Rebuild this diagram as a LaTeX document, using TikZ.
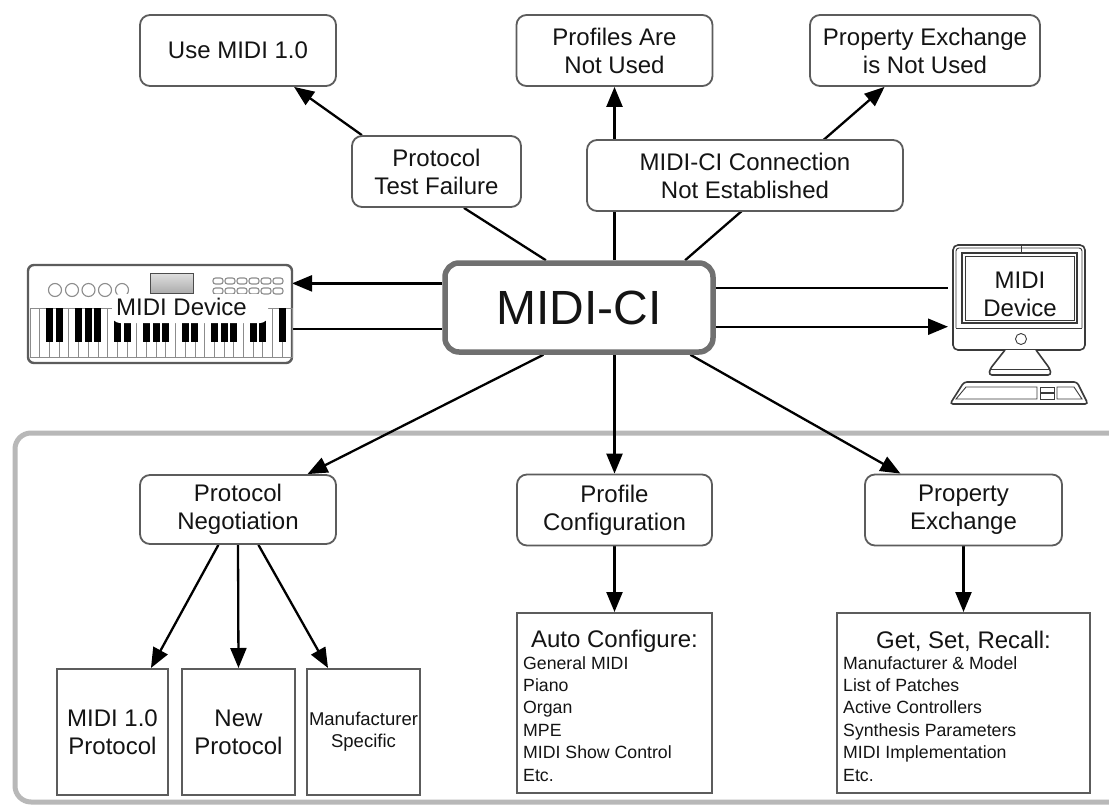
\documentclass[tikz,border=0pt]{standalone}
\usepackage{fontspec}
\setmainfont{Liberation Sans}
\usetikzlibrary{arrows.meta}
\definecolor{ink}{HTML}{141414}
\definecolor{boxline}{HTML}{5C5C5C}
\definecolor{hubline}{HTML}{707070}
\definecolor{framegray}{HTML}{B8B8B8}
\definecolor{devline}{HTML}{3A3A3A}
\definecolor{keyline}{HTML}{8C8C8C}
\pgfdeclarelayer{back}
\pgfsetlayers{back,main}

\tikzset{
  txt/.style={font=\fontsize{24}{28}\selectfont, text=ink},
  rbox/.style={txt, draw=boxline, line width=1.8pt, rounded corners=10pt, fill=white,
    align=center, inner sep=0pt, minimum height=71pt},
  sbox/.style={draw=boxline, line width=2pt, fill=white, align=center, inner sep=0pt, text=ink},
  arr/.style={draw=black, line width=2.3pt, -{Triangle[length=20pt,width=16pt]}},
  link/.style={draw=black, line width=2.3pt},
  item/.style={font=\fontsize{17.7}{22}\selectfont, text=ink, inner sep=0pt, anchor=base west},
  head/.style={txt, inner sep=0pt, anchor=base},
  dev/.style={draw=devline, line width=1.6pt},
  devthin/.style={draw=devline, line width=0.9pt},
  panel/.style={draw=keyline, line width=1.1pt},
}

\begin{document}
\begin{tikzpicture}[x=1pt,y=-1pt]
\useasboundingbox (0,0) rectangle (1109,806);

% ---------- top row outcomes ----------
\node[rbox, minimum width=196pt] (use) at (238,50.5) {Use MIDI 1.0};
\node[rbox, minimum width=196pt] (prof) at (614.5,50.5) {Profiles Are\\Not Used};
\node[rbox, minimum width=230pt] (pxnu) at (925,50.5) {Property Exchange\\is Not Used};
\node[rbox, minimum width=169pt] (ptf) at (436.5,171.5) {Protocol\\Test Failure};
\node[rbox, minimum width=316pt] (conn) at (745,175.5) {MIDI-CI Connection\\Not Established};

% ---------- central hub ----------
\node[draw=hubline, line width=5.5pt, rounded corners=14pt, fill=white,
      minimum width=268pt, minimum height=89pt, inner sep=0pt,
      font=\fontsize{48}{56}\selectfont, text=ink] (mci) at (579,307.5) {MIDI-CI};

% ---------- keyboard device ----------
\node[minimum width=264pt, minimum height=98pt, inner sep=0pt, outer sep=0pt] (kb) at (160,314) {};
\draw[draw=boxline, line width=2.4pt, fill=white, rounded corners=6pt] (kb.north west) rectangle (kb.south east);
% white keys
\foreach \i in {0,...,26}
  \draw[draw=keyline, line width=0.8pt] (30+\i*9.7,308) rectangle ++(9.7,49);
% black keys
\foreach \b in {2,3,5,6,7,9,10,12,13,14,16,17,19,20,21,23,24,26}
  \fill[black] (30+\b*9.7-3.5,308) rectangle ++(7,34);
% control panel
\foreach \x in {55,72,88.5,105,122}
  \draw[panel] (\x,290) circle[radius=6.5pt];
\draw[line width=1pt, draw=black!70, top color=gray!25, bottom color=gray!65] (150,273) rectangle (193,293);
\foreach \i in {0,...,5} {
  \draw[panel, rounded corners=2.5pt] (213+\i*12,278) rectangle ++(10,6);
  \draw[panel, rounded corners=2.5pt] (213+\i*12,288) rectangle ++(10,6);
}
\fill[white, rounded corners=8pt] (112,294) rectangle (268,323);
\node[txt, inner sep=0pt, anchor=base] (kblabel) at (181.5,315) {MIDI Device};

% ---------- computer device ----------
\node[minimum width=137pt, minimum height=105pt, inner sep=0pt, outer sep=0pt] (comp) at (1016.5,297.5) {};
\draw[dev, fill=white, rounded corners=5pt] (953,245) rectangle (1085,350);
\draw[devthin, rounded corners=3pt] (956,328) -- (956,248) -- (1082,248) -- (1082,328);
\draw[devthin] (956,328) -- (1082,328);
\draw[dev] (962,253) rectangle (1077,323);
\draw[devthin] (965,256) rectangle (1074,320);
\draw[devthin] (1021,245) -- (1021,253);
\draw[devthin] (1021,339) circle[radius=5.5pt];
\draw[dev, fill=white, rounded corners=3pt] (1005,350) -- (990,369) -- (989,375) -- (1051,375) -- (1050,369) -- (1036,350);
\draw[devthin] (990,369) -- (1050,369);
\draw[dev, fill=white, rounded corners=3pt] (950,404) -- (964,382) -- (1077,382) -- (1088,404) -- cycle;
\draw[devthin] (956,399) -- (966,387) -- (1037,387) -- (1037,399) -- cycle;
\draw[devthin] (1040,387) rectangle (1054,392.5);
\draw[devthin] (1040,393.5) rectangle (1054,399);
\draw[devthin] (1057,387) -- (1074,387) -- (1082,399) -- (1057,399) -- cycle;
\node[txt, align=center, inner sep=0pt, anchor=north] (complabel) at (1020,272) {MIDI\\Device};

% ---------- lower section ----------
\node[rbox, minimum width=196pt, minimum height=69pt] (pneg) at (238,509.5) {Protocol\\Negotiation};
\node[rbox, minimum width=195pt] (pcfg) at (614.5,510) {Profile\\Configuration};
\node[rbox, minimum width=197pt] (pex) at (963.5,510) {Property\\Exchange};

\node[sbox, txt, minimum width=111pt, minimum height=126pt] (p1) at (112.5,732) {MIDI 1.0\\Protocol};
\node[sbox, txt, minimum width=113pt, minimum height=126pt] (p2) at (238.5,732) {New\\Protocol};
\node[sbox, minimum width=113pt, minimum height=126pt, font=\fontsize{18.5}{22}\selectfont] (p3) at (363.5,732) {Manufacturer\\Specific};

\node[sbox, minimum width=195pt, minimum height=180pt] (acfg) at (614.5,703) {};
\node[sbox, minimum width=253pt, minimum height=180pt] (gsr) at (963.5,703) {};

\node[head] (acfg-h) at (614.5,647) {Auto Configure:};
\foreach \t [count=\i from 0] in {General MIDI, Piano, Organ, MPE, MIDI Show Control, Etc.}
  \node[item] (acfg-\i) at (523,669+22.4*\i) {\t};

\node[head] (gsr-h) at (963.5,648) {Get, Set, Recall:};
\foreach \t [count=\i from 0] in {Manufacturer \& Model, List of Patches, Active Controllers,
    Synthesis Parameters, MIDI Implementation, Etc.}
  \node[item] (gsr-\i) at (843,669+22.4*\i) {\t};

% ---------- page, frame and connectors (behind the boxes) ----------
\begin{pgfonlayer}{back}
\fill[white] (0,0) rectangle (1109,806);
\draw[framegray, line width=5pt, rounded corners=16pt] (15,433) rectangle (1130,802);
\draw[link] (mci.125) -- (ptf.-53.3);
\draw[arr] (ptf.154.5) -- (use.-33.6);
\draw[arr] (prof.south |- mci.north) -- (prof.south);
\draw[arr] (mci.24.2) -- (pxnu.222.4);
\draw[arr] (mci.170.4) -- (mci.170.4 -| kb.east);
\draw[link] (kb.east |- mci.-171.3) -- (mci.-171.3);
\draw[link] (mci.8.7) -- (mci.8.7 -| comp.west);
\draw[arr] (mci.-8.7) -- (mci.-8.7 -| comp.west);
\draw[arr] (mci.-127.4) -- (pneg.27.5);
\draw[arr] (pcfg.north |- mci.south) -- (pcfg.north);
\draw[arr] (mci.-23.4) -- (pex.150.3);
\draw[arr] (pneg.-119.4) -- (p1.59.2);
\draw[arr] (pneg.south) -- (p2.north);
\draw[arr] (pneg.-60.6) -- (p3.119.3);
\draw[arr] (pcfg.south) -- (acfg.north);
\draw[arr] (pex.south) -- (gsr.north);
\end{pgfonlayer}
\end{tikzpicture}
\end{document}
